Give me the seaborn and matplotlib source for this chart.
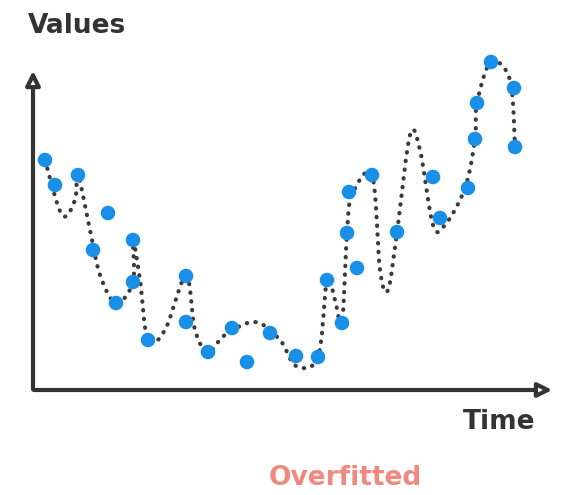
import numpy as np
import pandas as pd
import matplotlib
matplotlib.use("Agg")
import matplotlib.pyplot as plt
import seaborn as sns

# observed points (time, value) in picture units
pt_time = [45,55,78,93,108,116,133,133,148,186,186,208,232,247,270,296,318,327,342,347,349,357,372,397,433,440,468,475,477,491,514,515]
pt_value = [160,185,175,250,213,303,282,240,340,322,276,352,328,362,333,356,357,280,323,233,192,268,175,232,177,218,188,139,103,62,88,147]

# overfitted curve waypoints
cv_time = [45,62,75,78,90,100,116,133,133,140,148,165,186,195,208,225,255,280,296,318,327,335,342,347,352,372,380,388,397,410,420,433,445,465,475,477,491,510,515]
cv_value = [160,215,200,175,230,275,303,282,240,280,340,330,276,330,352,335,322,340,366,357,280,300,323,233,195,175,270,290,232,135,150,225,225,188,139,103,62,80,147]

def catmull(xs, ys, n=12):
    P = np.column_stack([xs, ys]).astype(float)
    P = np.vstack([P[0], P, P[-1]])
    out = []
    for i in range(1, len(P) - 2):
        p0, p1, p2, p3 = P[i-1], P[i], P[i+1], P[i+2]
        for t in np.linspace(0, 1, n, endpoint=False):
            out.append(0.5*((2*p1) + (-p0+p2)*t + (2*p0-5*p1+4*p2-p3)*t**2 + (-p0+3*p1-3*p2+p3)*t**3))
    out.append(P[-2])
    return np.array(out)

sm = catmull(cv_time, cv_value)
curve = pd.DataFrame({"t": sm[:, 0], "v": sm[:, 1]})
pts = pd.DataFrame({"t": pt_time, "v": pt_value})

sns.set_theme(style="white")
fig = plt.figure(figsize=(5.61, 4.95), dpi=100)
ax = fig.add_axes([0, 0, 1, 1])
ax.set_xlim(0, 561); ax.set_ylim(495, 0); ax.axis("off")

sns.lineplot(data=curve, x="t", y="v", sort=False, estimator=None, ax=ax,
             color="#3a3a3a", linestyle=(0, (0.1, 2.0)), linewidth=3.0, dash_capstyle="round")
sns.scatterplot(data=pts, x="t", y="v", ax=ax, color="#1a8fe8", s=110, edgecolor="none", zorder=3)

ax.annotate("", xy=(33, 68), xytext=(33, 392),
            arrowprops=dict(arrowstyle="-|>,head_width=0.35,head_length=0.7", color="#333333", lw=3, fc="white"))
ax.annotate("", xy=(555, 390), xytext=(31, 390),
            arrowprops=dict(arrowstyle="-|>,head_width=0.35,head_length=0.7", color="#333333", lw=3, fc="white"))
ax.text(28, 26, "Values", fontsize=19, fontweight="bold", color="#333333", va="center", ha="left")
ax.text(463, 422, "Time", fontsize=19, fontweight="bold", color="#333333", va="center", ha="left")
ax.text(345, 478, "Overfitted", fontsize=19, fontweight="bold", color="#f08a80", va="center", ha="center")
fig.savefig("out.png", dpi=100)
